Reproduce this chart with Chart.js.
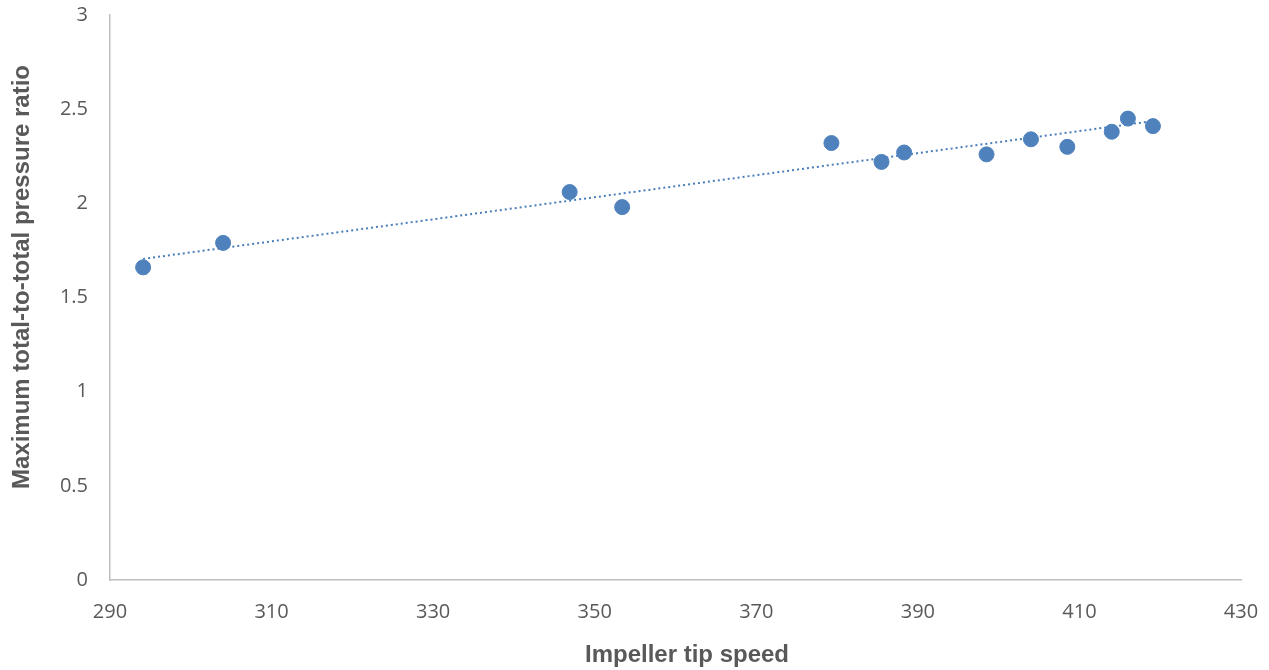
<!DOCTYPE html>
<html>
<head>
<meta charset="utf-8">
<script src="https://cdn.jsdelivr.net/npm/chart.js@4/dist/chart.umd.min.js"></script>
<style>
	html, body { margin: 0; padding: 0; background: #fff; }
	#box { width: 1269px; height: 670px; }
</style>
</head>
<body>
<div id="box"><canvas id="canvas0"></canvas></div>
<script>
// tip speed vs max pressure ratio
const tipSpeed = [294.1, 304.0, 346.9, 353.4, 379.3, 385.5, 388.3, 398.5, 404.0, 408.5, 414.0, 416.0, 419.1];
const pressureRatio = [1.66, 1.79, 2.06, 1.98, 2.32, 2.22, 2.27, 2.26, 2.34, 2.30, 2.38, 2.45, 2.41];

// dotted linear trend line, ends
const trendX = [294.1, 419.1];
const trendY = [1.705, 2.437];

const xTitle = 'Impeller tip speed';
const yTitle = 'Maximum total-to-total pressure ratio';

const points = tipSpeed.map((x, i) => ({ x: x, y: pressureRatio[i] }));
const trend = trendX.map((x, i) => ({ x: x, y: trendY[i] }));

const tickFont = { family: 'Open Sans', size: 20 };

// axis titles sit a bit off-centre in the original, so draw them by hand
const axisTitles = {
	id: 'axisTitles',
	afterDraw(chart) {
		const c = chart.ctx;
		c.save();
		c.fillStyle = '#595959';
		c.font = 'bold 24px "Liberation Sans", Arial, sans-serif';
		c.textAlign = 'center';
		c.textBaseline = 'middle';
		c.fillText(xTitle, 687, 655);
		c.translate(22, 277);
		c.rotate(-Math.PI / 2);
		c.fillText(yTitle, 0, 0);
		c.restore();
	}
};

const ctx = document.getElementById('canvas0').getContext('2d');

new Chart(ctx, {
	type: 'scatter',
	data: {
		datasets: [{
			label: 'data',
			data: points,
			backgroundColor: '#4f81bd',
			borderColor: '#4f81bd',
			pointRadius: 7.5,
			pointHoverRadius: 7.5,
			order: 1
		}, {
			label: 'trend',
			data: trend,
			showLine: true,
			borderColor: '#4a7ebb',
			borderWidth: 2,
			borderDash: [2, 3],
			pointRadius: 0,
			order: 2
		}]
	},
	options: {
		responsive: true,
		maintainAspectRatio: false,
		animation: false,
		layout: { padding: { top: 15, right: 28, left: 0, bottom: 0 } },
		plugins: {
			legend: { display: false },
			tooltip: { enabled: false }
		},
		scales: {
			x: {
				type: 'linear',
				min: 290,
				max: 430,
				ticks: { stepSize: 20, color: '#595959', font: tickFont, padding: 20, callback: (v) => String(v) },
				grid: { display: false, drawTicks: false },
				border: { color: '#bfbfbf', width: 1.5 },
				afterFit: (scale) => {
					scale.height = 90;
					scale.paddingLeft = 0;
					scale.paddingRight = 0;
				}
			},
			y: {
				min: 0,
				max: 3,
				ticks: { stepSize: 0.5, color: '#595959', font: tickFont, padding: 22, callback: (v) => String(v) },
				grid: { display: false, drawTicks: false },
				border: { color: '#bfbfbf', width: 1.5 },
				afterFit: (scale) => {
					scale.width = 110;
					scale.paddingTop = 0;
					scale.paddingBottom = 0;
				}
			}
		}
	},
	plugins: [axisTitles]
});
</script>
</body>
</html>
